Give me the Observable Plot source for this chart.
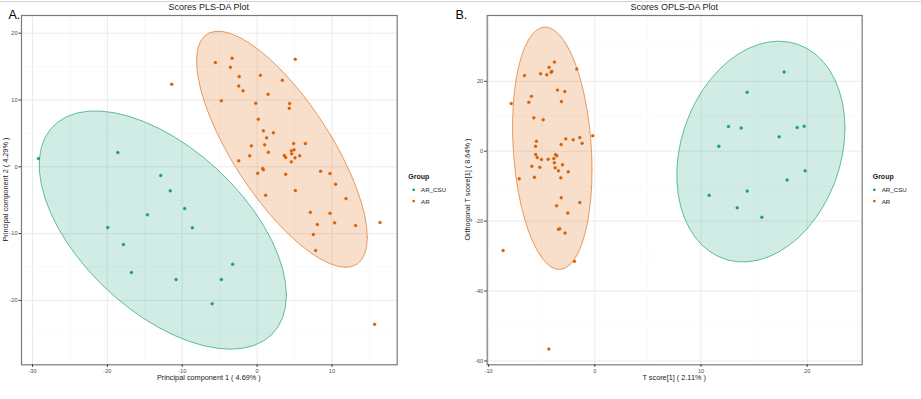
<!DOCTYPE html>
<html><head><meta charset="utf-8">
<script src="https://cdn.jsdelivr.net/npm/d3@7"></script>
<script src="https://cdn.jsdelivr.net/npm/@observablehq/plot@0.6"></script>
<style>
html,body{margin:0;padding:0;background:#fff;}
#wrap{position:relative;width:921px;height:399px;overflow:hidden;font-family:"Liberation Sans",Arial,sans-serif;}
#wrap > svg{position:absolute;top:0;}
</style></head><body><div id="wrap"></div>
<script>
const groups = ["AR_CSU", "AR"];
const groupColors = ["#1B9E77", "#D95F02"];

// PLS-DA scores (component 1, component 2)
const plsAR_CSU = [[-29.2,1.24],[-18.6,2.14],[-12.87,-1.3],[-11.6,-3.6],[-9.67,-6.24],[-14.65,-7.19],[-19.95,-9.09],[-8.64,-9.13],[-17.85,-11.63],[-16.78,-15.82],[-10.82,-16.87],[-4.77,-16.87],[-3.26,-14.58],[-6.0,-20.5]];
const plsAR = [[-11.4,12.37],[-5.57,15.6],[-3.34,16.26],[-3.56,14.9],[-2.4,13.5],[-2.45,12.1],[-1.87,11.4],[-4.77,9.9],[0.44,13.7],[3.38,12.97],[5.1,16.1],[1.47,10.87],[-0.18,9.52],[4.35,9.48],[4.31,8.77],[0.17,7.13],[0.84,5.39],[2.18,5.09],[1.28,4.34],[-0.76,3.14],[1.01,3.29],[-0.99,1.65],[1.51,2.19],[4.89,3.49],[6.45,3.49],[4.58,2.39],[4.94,2.54],[3.64,1.69],[3.82,1.39],[4.62,1.94],[5.69,1.65],[5.07,1.35],[4.58,0.75],[-2.45,0.9],[0.75,-0.25],[0.84,-0.45],[0.09,-0.96],[3.82,-1.1],[8.49,-0.66],[9.74,-1.0],[10.49,-2.6],[5.11,-3.55],[1.15,-4.25],[11.88,-4.75],[7.12,-6.8],[9.74,-6.94],[8.05,-8.64],[10.36,-8.39],[13.16,-8.79],[16.42,-8.34],[7.52,-10.13],[7.82,-12.53],[15.7,-23.56]];

// OPLS-DA scores (T score[1], orthogonal T score[1])
const oplsAR_CSU = [[17.83,22.7],[14.35,16.9],[12.59,7.07],[13.79,6.68],[19.06,6.78],[19.71,7.16],[17.36,4.11],[11.68,1.44],[19.81,-5.62],[18.11,-8.2],[10.77,-12.6],[14.35,-11.4],[13.41,-16.2],[15.73,-18.9]];
const oplsAR = [[-7.87,13.65],[-6.62,21.66],[-6.21,14.0],[-5.96,15.7],[-5.74,9.55],[-4.86,8.97],[-5.11,22.2],[-4.52,21.9],[-4.3,24.0],[-4.1,22.6],[-4.05,22.9],[-3.8,25.5],[-1.69,23.5],[-3.51,17.5],[-2.82,17.1],[-3.14,14.2],[-5.49,2.86],[-5.58,1.43],[-3.17,1.92],[-2.73,3.55],[-2.03,3.26],[-1.41,3.92],[-1.19,2.29],[-0.19,4.41],[-5.56,-0.94],[-5.42,-1.8],[-5.02,-2.37],[-4.39,-2.29],[-3.86,-2.09],[-3.7,-0.94],[-3.58,-1.32],[-3.8,-3.32],[-5.93,-4.29],[-5.18,-4.58],[-3.73,-4.75],[-3.42,-5.61],[-3.04,-3.89],[-2.5,-5.89],[-5.68,-7.44],[-3.2,-7.61],[-7.12,-7.9],[-3.16,-13.3],[-1.41,-14.7],[-3.6,-15.6],[-2.54,-17.7],[-3.42,-22.3],[-3.3,-22.2],[-2.8,-23.4],[-8.63,-28.4],[-1.91,-31.5],[-4.33,-56.6]];

// ticks
const plsXTicks = [-30,-20,-10,0,10];
const plsXMinor = [-25,-15,-5,5,15];
const plsYTicks = [-20,-10,0,10,20];
const plsYMinor = [-25,-15,-5,5,15];
const oplsXTicks = [-10,0,10,20];
const oplsXMinor = [-5,5,15,25];
const oplsYTicks = [-60,-40,-20,0,20];
const oplsYMinor = [-50,-30,-10,10,30];

// robust t covariance (like MASS::cov.trob) and stat_ellipse(type = "t", level = 0.95)
function covTrob(pts, nu = 5, maxit = 25, tol = 0.01) {
  const n = pts.length, p = 2;
  let loc = [d3.mean(pts, d => d[0]), d3.mean(pts, d => d[1])];
  let w = new Array(n).fill(1);
  let X;
  for (let it = 0; it < maxit; it++) {
    const w0 = w.slice();
    X = pts.map(d => [d[0] - loc[0], d[1] - loc[1]]);
    const sw = d3.sum(w);
    let a = 0, b = 0, c = 0;
    X.forEach((x, i) => { a += w[i]*x[0]*x[0]; b += w[i]*x[0]*x[1]; c += w[i]*x[1]*x[1]; });
    a /= sw; b /= sw; c /= sw;
    const det = a*c - b*b;
    const Q = X.map(x => (c*x[0]*x[0] - 2*b*x[0]*x[1] + a*x[1]*x[1]) / det);
    w = Q.map(q => (nu + p) / (nu + q));
    const sw2 = d3.sum(w);
    loc = [d3.sum(pts, (d, i) => w[i]*d[0]) / sw2, d3.sum(pts, (d, i) => w[i]*d[1]) / sw2];
    if (w.every((v, i) => Math.abs(v - w0[i]) < tol)) break;
  }
  let a = 0, b = 0, c = 0;
  X.forEach((x, i) => { a += w[i]*x[0]*x[0]; b += w[i]*x[0]*x[1]; c += w[i]*x[1]*x[1]; });
  return {center: loc, cov: [[a/n, b/n], [b/n, c/n]]};
}
function ellipse(pts, level = 0.95, segments = 51) {
  const {center, cov} = covTrob(pts);
  const dfd = pts.length - 1;
  const qf = dfd / 2 * (Math.pow(1 - level, -2 / dfd) - 1);
  const radius = Math.sqrt(2 * qf);
  const a = Math.sqrt(cov[0][0]), b = cov[0][1] / a, c = Math.sqrt(cov[1][1] - b*b);
  return d3.range(segments + 1).map(i => {
    const t = i * 2 * Math.PI / segments, u = Math.cos(t), v = Math.sin(t);
    return {x: center[0] + radius*u*a, y: center[1] + radius*(u*b + v*c)};
  });
}

function panel({csu, ar, width, marginLeft, marginRight, xDomain, yDomain, xTicks, xMinor, yTicks, yMinor}) {
  const pts = [...csu.map(d => ({x: d[0], y: d[1], g: "AR_CSU"})), ...ar.map(d => ({x: d[0], y: d[1], g: "AR"}))];
  const eCsu = ellipse(csu), eAr = ellipse(ar);
  return Plot.plot({
    width, height: 399, marginTop: 15, marginBottom: 34.7, marginLeft, marginRight,
    style: {fontFamily: '"Liberation Sans", Arial, sans-serif', fontSize: "5.6px", color: "#4d4d4d", background: "transparent", overflow: "visible"},
    x: {domain: xDomain},
    y: {domain: yDomain},
    color: {domain: groups, range: groupColors},
    marks: [
      Plot.ruleX(xMinor, {stroke: "#f3f3f3", strokeWidth: 0.5}),
      Plot.ruleY(yMinor, {stroke: "#f3f3f3", strokeWidth: 0.5}),
      Plot.ruleX(xTicks, {stroke: "#e6e6e6", strokeWidth: 0.8}),
      Plot.ruleY(yTicks, {stroke: "#e6e6e6", strokeWidth: 0.8}),
      Plot.line(eCsu, {x: "x", y: "y", fill: groupColors[0], fillOpacity: 0.2, stroke: groupColors[0], strokeOpacity: 0.85, strokeWidth: 0.8}),
      Plot.line(eAr, {x: "x", y: "y", fill: groupColors[1], fillOpacity: 0.2, stroke: groupColors[1], strokeOpacity: 0.75, strokeWidth: 0.8}),
      Plot.dot(pts, {x: "x", y: "y", fill: "g", stroke: "g", strokeWidth: 0.3, r: 1.5}),
      Plot.frame({stroke: "#7a7a7a", strokeWidth: 1.2}),
      Plot.axisX({ticks: xTicks, tickSize: 2.5, tickPadding: 2, tickFormat: d => String(d), label: null, stroke: "#333"}),
      Plot.axisY({ticks: yTicks, tickSize: 2.5, tickPadding: 1.5, tickFormat: d => String(d), label: null, stroke: "#333"})
    ]
  });
}

const wrap = document.getElementById("wrap");
const svgA = panel({csu: plsAR_CSU, ar: plsAR, width: 460, marginLeft: 21, marginRight: 63.3,
  xDomain: [-31.47, 18.72], yDomain: [-29.64, 22.65], xTicks: plsXTicks, xMinor: plsXMinor, yTicks: plsYTicks, yMinor: plsYMinor});
svgA.style.left = "0px";
wrap.appendChild(svgA);
const svgB = panel({csu: oplsAR_CSU, ar: oplsAR, width: 461, marginLeft: 26.7, marginRight: 59.3,
  xDomain: [-10.13, 25.18], yDomain: [-61.1, 38.83], xTicks: oplsXTicks, xMinor: oplsXMinor, yTicks: oplsYTicks, yMinor: oplsYMinor});
svgB.style.left = "460px";
wrap.appendChild(svgB);

// annotations
const ns = "http://www.w3.org/2000/svg";
const ov = document.createElementNS(ns, "svg");
ov.setAttribute("width", 921); ov.setAttribute("height", 399);
ov.style.left = "0px";
ov.style.fontFamily = '"Liberation Sans", Arial, sans-serif';
function txt(s, x, y, opts = {}) {
  const t = document.createElementNS(ns, "text");
  t.textContent = s;
  t.setAttribute("x", x); t.setAttribute("y", y);
  t.setAttribute("font-size", opts.size || 7.3);
  t.setAttribute("fill", opts.fill || "#1a1a1a");
  if (opts.anchor) t.setAttribute("text-anchor", opts.anchor);
  if (opts.weight) t.setAttribute("font-weight", opts.weight);
  if (opts.baseline) t.setAttribute("dominant-baseline", opts.baseline);
  if (opts.rotate) t.setAttribute("transform", `rotate(-90 ${x} ${y})`);
  ov.appendChild(t);
}
function dot(x, y, c) {
  const e = document.createElementNS(ns, "circle");
  e.setAttribute("cx", x); e.setAttribute("cy", y); e.setAttribute("r", 1.4); e.setAttribute("fill", c);
  ov.appendChild(e);
}
const topLine = document.createElementNS(ns, "line");
topLine.setAttribute("x1", 0); topLine.setAttribute("x2", 921); topLine.setAttribute("y1", 1.5); topLine.setAttribute("y2", 1.5);
topLine.setAttribute("stroke", "#d3d3d3"); topLine.setAttribute("stroke-width", 1);
ov.appendChild(topLine);

txt("A.", 8.5, 18.5, {size: 12.5, fill: "#000"});
txt("B.", 455.5, 18.5, {size: 12.5, fill: "#000"});
txt("Scores PLS-DA Plot", 208.8, 9.5, {size: 9, anchor: "middle"});
txt("Scores OPLS-DA Plot", 674.2, 9.5, {size: 9, anchor: "middle"});
txt("Principal component 1 ( 4.69% )", 208.8, 380, {anchor: "middle"});
txt("T score[1] ( 2.11% )", 674.2, 380, {anchor: "middle"});
txt("Principal component 2 ( 4.29% )", 8.3, 189.6, {anchor: "middle", rotate: true});
txt("Orthogonal T score[1] ( 8.64% )", 470, 189.6, {anchor: "middle", rotate: true});

const legends = [{gx: 408.3, dx: 413.7, tx: 421}, {gx: 872.7, dx: 874.3, tx: 881.7}];
legends.forEach(L => {
  txt("Group", L.gx, 179, {size: 7, weight: "bold"});
  groups.forEach((g, i) => {
    const y = 189.8 + i * 11.3;
    dot(L.dx, y, groupColors[i]);
    txt(g, L.tx, y, {size: 6.2, baseline: "central"});
  });
});
wrap.appendChild(ov);
</script>
</body></html>
